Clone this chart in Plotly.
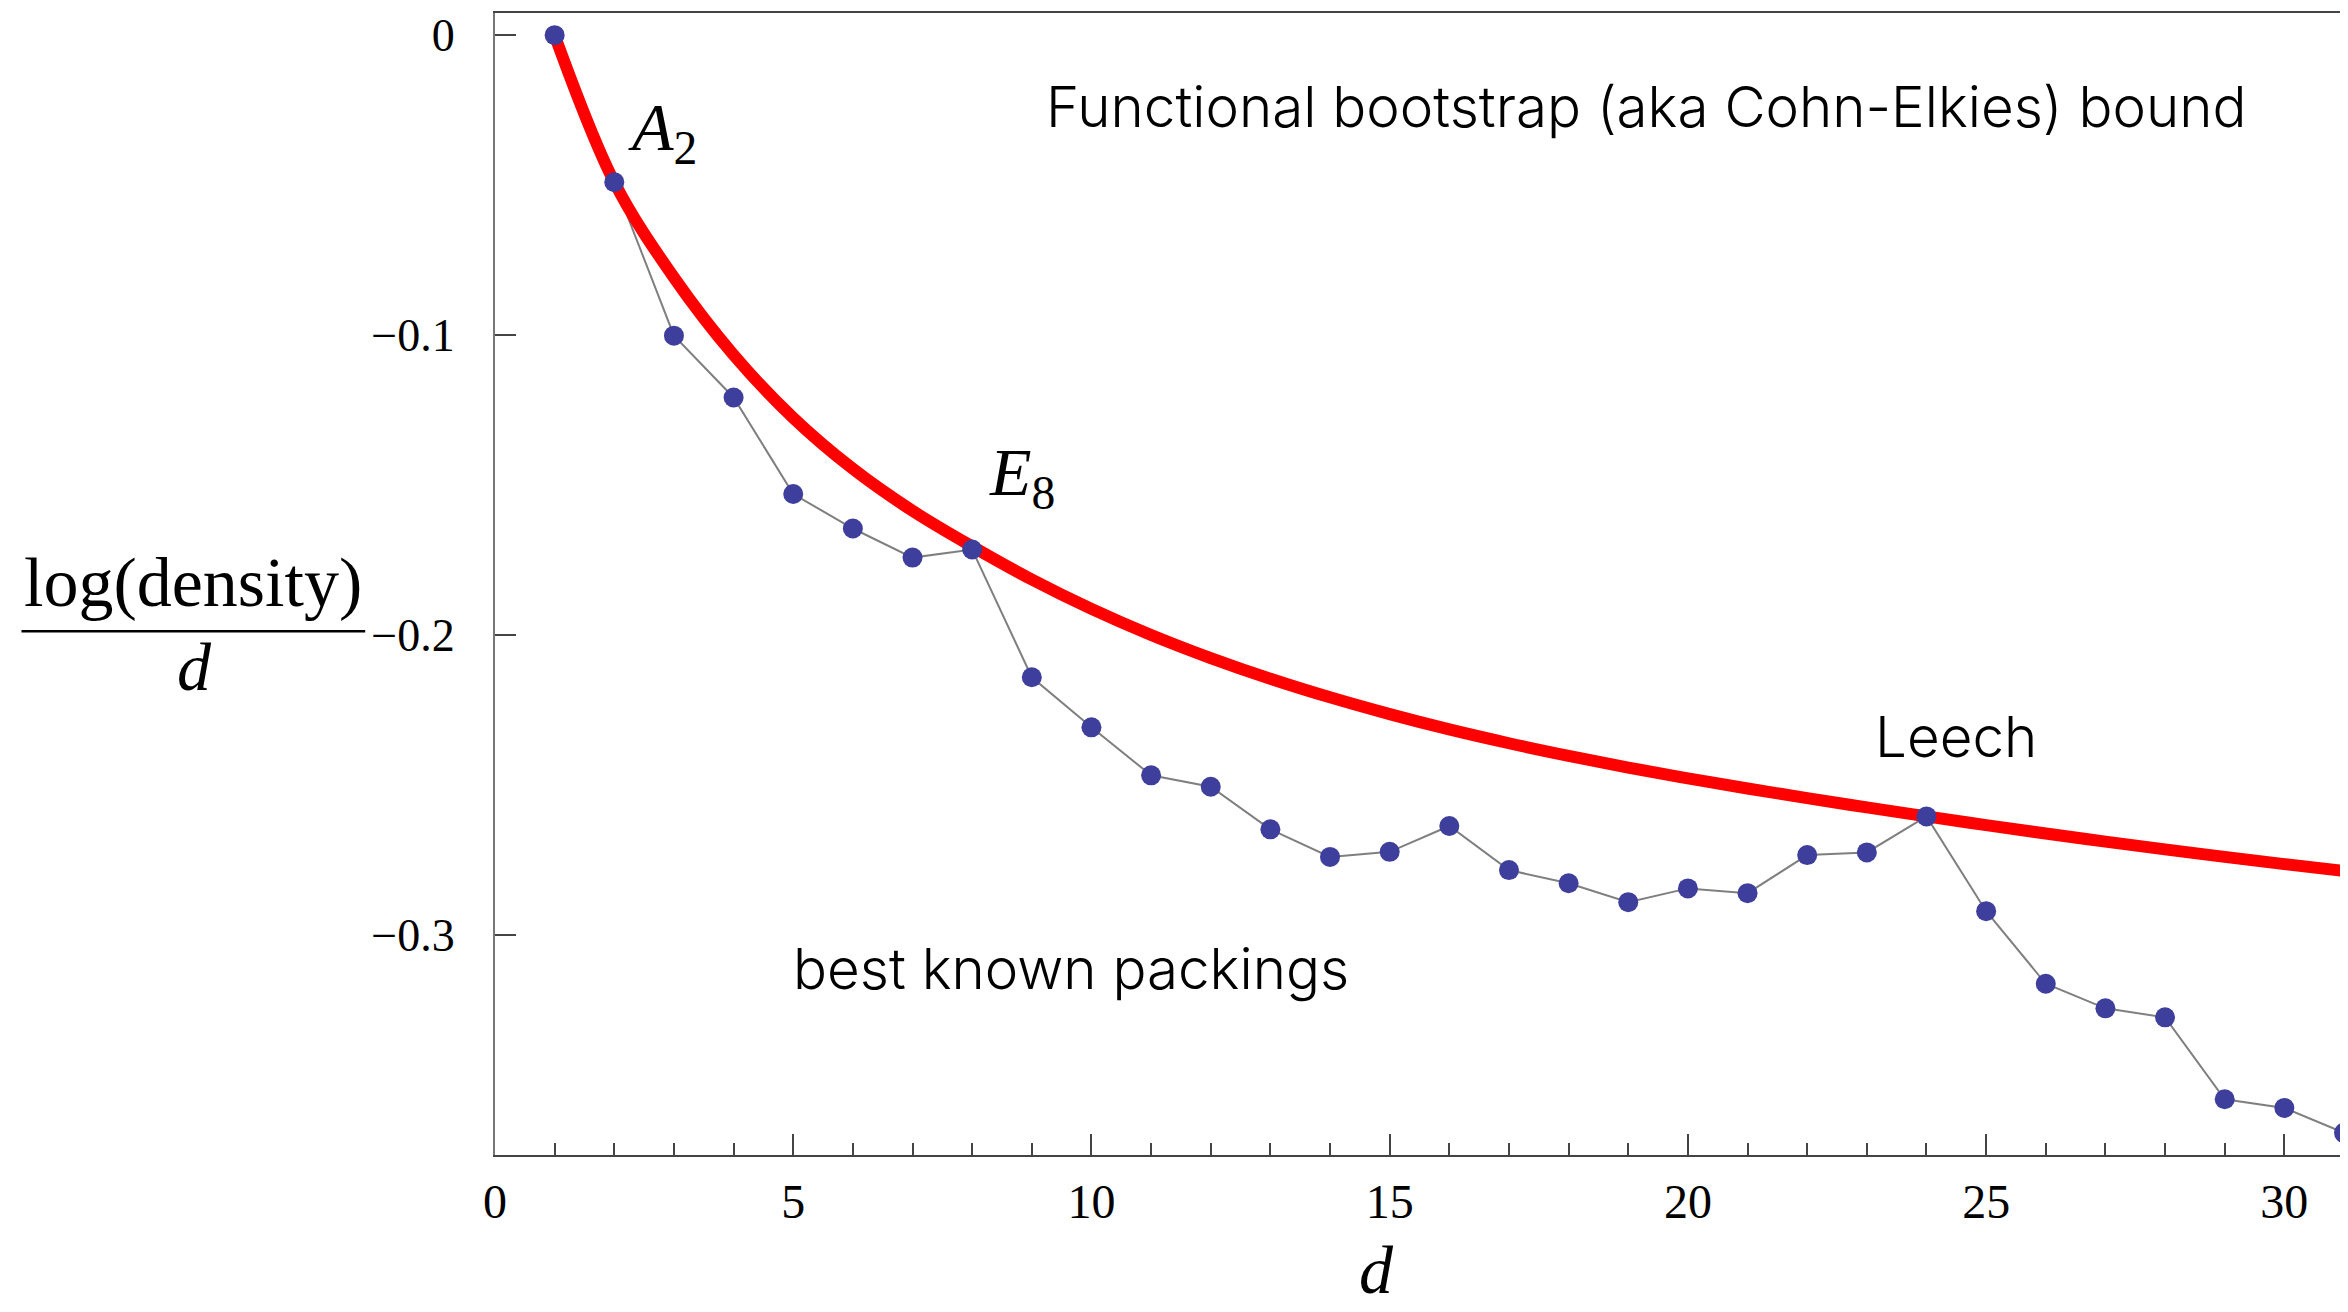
import plotly.graph_objects as go

# ---- data ----
dims = list(range(1, 32))
best_known = [0.0, -0.0490, -0.1002, -0.1208, -0.1530, -0.1645, -0.1742, -0.1715,
              -0.2141, -0.2308, -0.2468, -0.2506, -0.2648, -0.2740, -0.2723, -0.2637,
              -0.2784, -0.2828, -0.2891, -0.2845, -0.2861, -0.2734, -0.2725, -0.2605,
              -0.2921, -0.3163, -0.3245, -0.3275, -0.3548, -0.3577, -0.3660]

bound_d = list(range(1, 32))
bound_val = [0.0, -0.0490, -0.0808, -0.1066, -0.1276, -0.1446, -0.1586, -0.1705,
             -0.1815, -0.1913, -0.2000, -0.2077, -0.2146, -0.2208, -0.2264, -0.2315,
             -0.2361, -0.2403, -0.2442, -0.2478, -0.2512, -0.2544, -0.2575, -0.2605,
             -0.2634, -0.2662, -0.2689, -0.2715, -0.2740, -0.2764, -0.2787]

x_ticks = [0, 5, 10, 15, 20, 25, 30]
x_ticktext = ["0", "5", "10", "15", "20", "25", "30"]
y_ticks = [0, -0.1, -0.2, -0.3]
y_ticktext = ["0", "\u22120.1", "\u22120.2", "\u22120.3"]

SERIF = "Liberation Serif"
SANS = "Inter"

fig = go.Figure()
fig.add_trace(go.Scatter(x=dims, y=best_known, mode="lines",
                         line=dict(color="#7f7f7f", width=2), showlegend=False,
                         hoverinfo="skip"))
fig.add_trace(go.Scatter(x=bound_d, y=bound_val, mode="lines",
                         line=dict(color="#ff0000", width=12, shape="spline", smoothing=1.0),
                         showlegend=False))
fig.add_trace(go.Scatter(x=dims, y=best_known, mode="markers",
                         marker=dict(color="#3e3e9c", size=20, line=dict(width=0)),
                         showlegend=False))

# the page body adds an 8px offset, so the figure is 8px smaller and margins shifted
fig.update_layout(
    width=2340, height=1304,
    margin=dict(l=487, r=2, t=4, b=157),
    paper_bgcolor="white", plot_bgcolor="white",
    font=dict(family=SERIF, color="black"),
)
fig.update_xaxes(
    range=[0, 31.0], showgrid=False, zeroline=False,
    showline=True, linecolor="#444444", linewidth=2, mirror=True,
    tickmode="array", tickvals=x_ticks, ticktext=x_ticktext,
    ticks="inside", ticklen=21, tickwidth=1.5, tickcolor="#444444",
    minor=dict(dtick=1, tick0=0, ticks="inside", ticklen=12, tickwidth=1.5, tickcolor="#444444"),
    tickfont=dict(family=SERIF, size=48, color="black"), ticklabelstandoff=3,
)
fig.update_yaxes(
    range=[-0.3734, 0.0074], showgrid=False, zeroline=False,
    showline=True, linecolor="#777777", linewidth=2, mirror=True,
    tickmode="array", tickvals=y_ticks, ticktext=y_ticktext,
    ticks="inside", ticklen=21, tickwidth=1.5, tickcolor="#444444",
    tickfont=dict(family=SERIF, size=46, color="black"), ticklabelstandoff=29,
)

sans_font = dict(family=SANS, size=56.5, color="black", weight=300)
math_font = dict(family=SERIF, size=68, color="black")

annotations = [
    dict(x=19.30, y=-0.0239, text="Functional bootstrap (aka Cohn-Elkies) bound", font=sans_font),
    dict(x=9.655, y=-0.3112, text="best known packings", font=sans_font),
    dict(x=24.5, y=-0.2340, text="Leech", font=sans_font),
    dict(x=2.80, y=-0.0320, text="<i>A</i><sub>2</sub>", font=math_font),
    dict(x=8.84, y=-0.1470, text="<i>E</i><sub>8</sub>", font=math_font),
]
for a in annotations:
    fig.add_annotation(xref="x", yref="y", showarrow=False, xanchor="center", yanchor="middle", **a)

# axis titles (fraction on the y side)
fig.add_annotation(xref="paper", yref="paper", x=-0.1632, y=0.5015, text="log(density)",
                   showarrow=False, xanchor="center", yanchor="middle",
                   font=dict(family=SERIF, size=70, color="black"))
fig.add_annotation(xref="paper", yref="paper", x=-0.1627, y=0.4274, text="<i>d</i>",
                   showarrow=False, xanchor="center", yanchor="middle",
                   font=dict(family=SERIF, size=68, color="black"))
fig.add_shape(type="line", xref="paper", yref="paper", x0=-0.2561, x1=-0.0702,
              y0=0.4586, y1=0.4586, line=dict(color="black", width=2.5))
fig.add_annotation(xref="paper", yref="paper", x=0.477, y=-0.1006, text="<i>d</i>",
                   showarrow=False, xanchor="center", yanchor="middle",
                   font=dict(family=SERIF, size=68, color="black"))

fig.write_html("out.html")
